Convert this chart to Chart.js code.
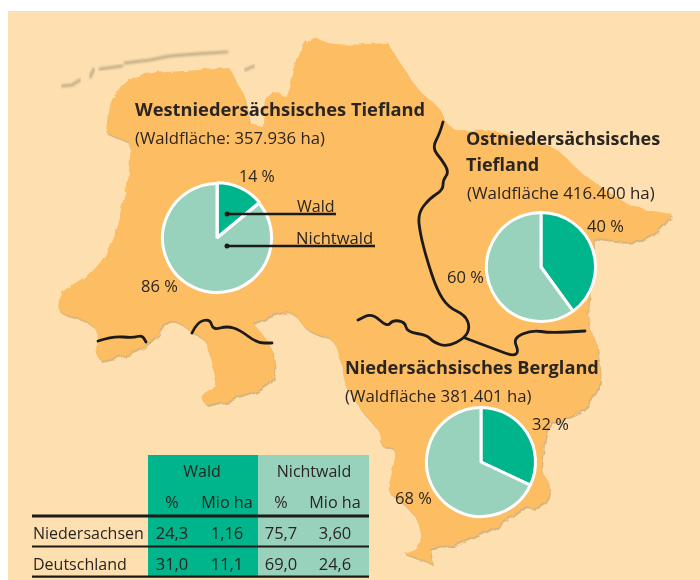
<!DOCTYPE html>
<html><head><meta charset="utf-8">
<script src="https://cdn.jsdelivr.net/npm/chart.js@4"></script>
<style>
html,body{margin:0;padding:0;background:#fff}
#stage{position:relative;width:700px;height:580px;overflow:hidden;background:#fff}
#stage svg{position:absolute;left:0;top:0}
#stage canvas{position:absolute}
.wrap{position:absolute;width:130px;height:130px}
text{font-family:"Open Sans",sans-serif;fill:#2b2522}
</style></head><body>
<div id="stage">
<svg id="map" width="700" height="580"></svg>
<div class="wrap" id="w0" style="left:152px;top:173px"><canvas id="pie0"></canvas></div>
<div class="wrap" id="w1" style="left:475.5px;top:202px"><canvas id="pie1"></canvas></div>
<div class="wrap" id="w2" style="left:416px;top:396.5px"><canvas id="pie2"></canvas></div>
<svg id="over" width="700" height="580"></svg>
</div>
<script>
const sliceLabels = ["Wald", "Nichtwald"];
const westValues = [14, 86];
const eastValues = [40, 60];
const bergValues = [32, 68];
const tableHeadGroups = ["Wald", "Nichtwald"];
const tableHeadUnits = ["%", "Mio ha", "%", "Mio ha"];
const tableRowNames = ["Niedersachsen", "Deutschland"];
const niedersachsenRow = ["24,3", "1,16", "75,7", "3,60"];
const deutschlandRow = ["31,0", "11,1", "69,0", "24,6"];

const GREEN = "#00B48C", PALE = "#98D2BC";

/* ---------- decorative map ---------- */
const landPts = "120 90 125 82 140 74 167 72 200 70 230 68 230 68 235 80 243 92 247 105 250 124 250 124 263 127 263 127 264 100 270 92 280 92 285 100 290 90 293 73 303 43 315 35 322 43 350 45 388 43 388 43 400 63 420 93 440 107 443 120 457 132 483 128 517 137 557 147 577 170 603 188 633 208 672 214 672 214 653 237 627 243 593 238 593 238 590 290 587 323 597 343 598 353 602 380 590 403 577 413 547 423 543 450 540 470 550 483 550 497 540 508 520 507 507 520 483 533 450 547 430 547 430 547 433 564 433 564 404 553 404 553 420 547 420 520 397 497 387 492 392 473 397 447 380 447 382 433 363 413 350 392 345 385 340 357 333 337 307 332 293 310 277 313 253 323 253 323 273 347 277 377 260 390 240 397 207 405 207 405 200 397 217 387 213 367 207 340 193 333 180 322 167 320 160 333 143 347 133 353 100 360 100 360 95 350 100 333 87 320 58 313 57 300 63 290 97 270 113 240 127 187 130 143 130 143 107 133 107 133 110 100 120 90";
const islandPaths = ["M62 86 L72 85 L80 80","M90 77 L94 69","M100 69 L122 66","M125 63 L150 60 L170 56 L195 54 L227 52","M245 70 L254 66"];
const borderPts = [
 "443 122 440 133 432 148 442 160 449 172 443 180 443 190 430 198 418 213 420 233 427 260 437 290 448 307 465 315 470 327 465 338 447 347 433 342 427 335 407 332 405 322 393 320 387 327 372 313 358 320",
 "465 338 497 350 513 356 519 352 513 338 532 330 550 333 585 331",
 "192 333 197 322 210 319 213 330 227 326 240 330 257 343 272 343",
 "98 341 113 336 133 338 142 335 146 342"];
function smooth(str, closed){
  const n = str.trim().split(/\s+/).map(Number), p = [];
  for (let i=0;i<n.length;i+=2) p.push([n[i],n[i+1]]);
  const mid=(a,b)=>[(a[0]+b[0])/2,(a[1]+b[1])/2];
  if (closed){
    let m=mid(p[p.length-1],p[0]), d=`M${m[0]} ${m[1]}`;
    p.forEach((q,i)=>{const e=mid(q,p[(i+1)%p.length]); d+=` Q${q[0]} ${q[1]} ${e[0]} ${e[1]}`;});
    return d+"Z";
  }
  let d=`M${p[0][0]} ${p[0][1]}`;
  for(let i=1;i<p.length-1;i++){const e=mid(p[i],p[i+1]); d+=` Q${p[i][0]} ${p[i][1]} ${e[0]} ${e[1]}`;}
  const l=p[p.length-1]; return d+` L${l[0]} ${l[1]}`;
}
const NS = "http://www.w3.org/2000/svg";
function el(parent, name, attrs, txt){
  const e = document.createElementNS(NS, name);
  for (const k in attrs) e.setAttribute(k, attrs[k]);
  if (txt !== undefined) e.textContent = txt;
  parent.appendChild(e); return e;
}
const map = document.getElementById("map");
const defs = el(map, "defs", {});
const soft = el(defs, "filter", {id:"soft", x:"-5%", y:"-5%", width:"110%", height:"110%"});
el(soft, "feTurbulence", {type:"fractalNoise", baseFrequency:"0.09", numOctaves:"2", seed:"4", result:"n"});
el(soft, "feDisplacementMap", {in:"SourceGraphic", in2:"n", scale:"6", result:"d"});
el(soft, "feGaussianBlur", {in:"d", stdDeviation:"0.7"});
const blur = el(defs, "filter", {id:"blur", x:"-5%", y:"-50%", width:"110%", height:"200%"});
el(blur, "feGaussianBlur", {stdDeviation:"0.8"});
const landD = smooth(landPts, true);
el(map, "rect", {x:8, y:11, width:692, height:569, fill:"#FDDFB0"});
el(map, "path", {d:landD, fill:"#C9A36A", opacity:"0.7", transform:"translate(1 2)", filter:"url(#soft)"});
el(map, "path", {d:landD, fill:"#FDBD62", filter:"url(#soft)"});
islandPaths.forEach(d => el(map, "path", {d, fill:"none", stroke:"#C4AE86", "stroke-width":3, "stroke-linecap":"round", filter:"url(#blur)"}));
borderPts.forEach(s => el(map, "path", {d:smooth(s,false), fill:"none", stroke:"#1d1b1a", "stroke-width":2.8, "stroke-linejoin":"round", "stroke-linecap":"round"}));

/* ---------- pies ---------- */
function pie(id, values, offset){
  new Chart(document.getElementById(id), {
    type: "pie",
    data: { labels: sliceLabels, datasets: [{
      data: values, backgroundColor: [GREEN, PALE],
      borderColor: "#ffffff", borderWidth: 3, offset: [offset, 0]
    }]},
    options: { responsive: true, maintainAspectRatio: false, animation: false,
      radius: 54.5,
      plugins: { legend: {display:false}, tooltip: {enabled:false} } }
  });
}
pie("pie0", westValues, 3);
pie("pie1", eastValues, 0);
pie("pie2", bergValues, 0);

/* ---------- texts, leader lines, table ---------- */
const over = document.getElementById("over");
function t(x, y, s, size, opts){
  return el(over, "text", Object.assign({x, y, "font-size":size}, opts||{}), s);
}
const B = {"font-weight":700};
t(135,116,"Westniedersächsisches Tiefland",18.3,B);
t(135,144,"(Waldfläche: 357.936 ha)",16.7);
t(466,145,"Ostniedersächsisches",18,B);
t(466,171,"Tiefland",18,B);
t(467,199,"(Waldfläche 416.400 ha)",16.9);
t(345,374,"Niedersächsisches Bergland",18.2,B);
t(345,402,"(Waldfläche 381.401 ha)",16.8);

const P = 16.5;
t(239,182,westValues[0]+" %",16);
t(141,292,westValues[1]+" %",P);
t(587,232,eastValues[0]+" %",P);
t(447,283,eastValues[1]+" %",P);
t(532,430,bergValues[0]+" %",P);
t(395,504,bergValues[1]+" %",P);

t(297,212,sliceLabels[0],16);
t(296,244,sliceLabels[1],16.6);
[[227,336,214],[227,375,246]].forEach(([a,b,y])=>{
  el(over,"line",{x1:a,x2:b,y1:y,y2:y,stroke:"#1d1b1a","stroke-width":2.4});
  el(over,"circle",{cx:a,cy:y,r:2.5,fill:"#1d1b1a"});
});

el(over,"rect",{x:148,y:455,width:110,height:122,fill:GREEN});
el(over,"rect",{x:258,y:455,width:111,height:122,fill:PALE});
const colX = [172,227,281,335];
const M = {"text-anchor":"middle"};
t(202,477,tableHeadGroups[0],16,M);
t(314,477,tableHeadGroups[1],16,M);
tableHeadUnits.forEach((u,i)=>t(colX[i],508,u,16.2,M));
[niedersachsenRow, deutschlandRow].forEach((row,r)=>{
  const y = r===0?539:570;
  t(33,y,tableRowNames[r],16);
  row.forEach((v,i)=>t(colX[i],y,v,16.5,M));
});
[[516,3],[546.5,2.2],[576.7,2.2]].forEach(([y,w])=>el(over,"line",{x1:32,x2:369,y1:y,y2:y,stroke:"#1d1b1a","stroke-width":w}));
</script>
</body></html>
